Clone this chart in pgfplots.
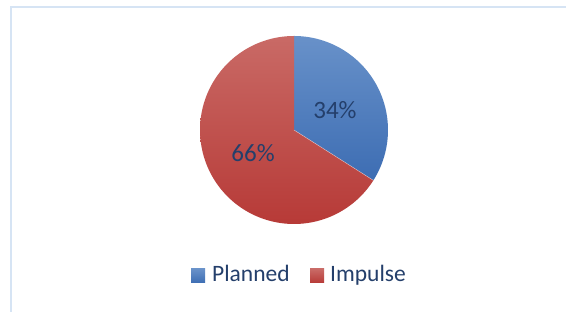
\documentclass[border=0pt]{standalone}
\usepackage{pgfplots}
\usepackage{pgfplotstable}
\pgfplotsset{compat=1.18}
\usepackage{fontspec}
\setmainfont{Carlito}
\definecolor{txt}{HTML}{243F6B}
\definecolor{frame}{HTML}{D6E4F4}
\definecolor{blueT}{HTML}{6891C9}
\definecolor{blueB}{HTML}{3D6DB3}
\definecolor{redT}{HTML}{C96A66}
\definecolor{redB}{HTML}{B73A37}
\pgfplotstableread{
label value
Planned 34
Impulse 66
}\piedata
\pgfplotstablegetelem{0}{value}\of\piedata \let\vA\pgfplotsretval
\pgfplotstablegetelem{1}{value}\of\piedata \let\vB\pgfplotsretval
\pgfmathsetmacro\angA{90-3.6*\vA}
\begin{document}
\begin{tikzpicture}
\useasboundingbox (0pt,0pt) rectangle (566pt,312pt);
\fill[white] (0pt,0pt) rectangle (566pt,312pt);
\draw[frame, line width=2pt] (11pt,0pt) -- (11pt,305pt) -- (566pt,305pt);
\begin{axis}[
  at={(294pt,182pt)}, anchor=origin,
  scale only axis, width=188pt, height=188pt,
  xmin=-1, xmax=1, ymin=-1, ymax=1,
  axis lines=none, clip=false,
]
\addplot[draw=none, top color=blueT, bottom color=blueB, domain=90:\angA, samples=120] ({cos(x)},{sin(x)}) -- (axis cs:0,0) -- cycle;
\addplot[draw=none, top color=redT, bottom color=redB, domain=\angA:-270, samples=200] ({cos(x)},{sin(x)}) -- (axis cs:0,0) -- cycle;
\draw[white, opacity=0.5, line width=0.5pt] (axis cs:0,0) -- (axis cs:{cos(\angA)},{sin(\angA)});
\node[txt, font=\fontsize{25}{30}\selectfont] at (axis cs:0.436,0.213) {\vA\%};
\node[txt, font=\fontsize{25}{30}\selectfont] at (axis cs:-0.436,-0.245) {\vB\%};
\end{axis}
\fill[top color=blueT, bottom color=blueB] (191pt,29pt) rectangle (205pt,43pt);
\node[txt, anchor=base west, inner sep=0, font=\fontsize{23.5}{28}\selectfont] at (212pt,30pt) {Planned};
\fill[top color=redT, bottom color=redB] (310pt,29pt) rectangle (324pt,43pt);
\node[txt, anchor=base west, inner sep=0, font=\fontsize{23.5}{28}\selectfont] at (330pt,30pt) {Impulse};
\end{tikzpicture}
\end{document}
